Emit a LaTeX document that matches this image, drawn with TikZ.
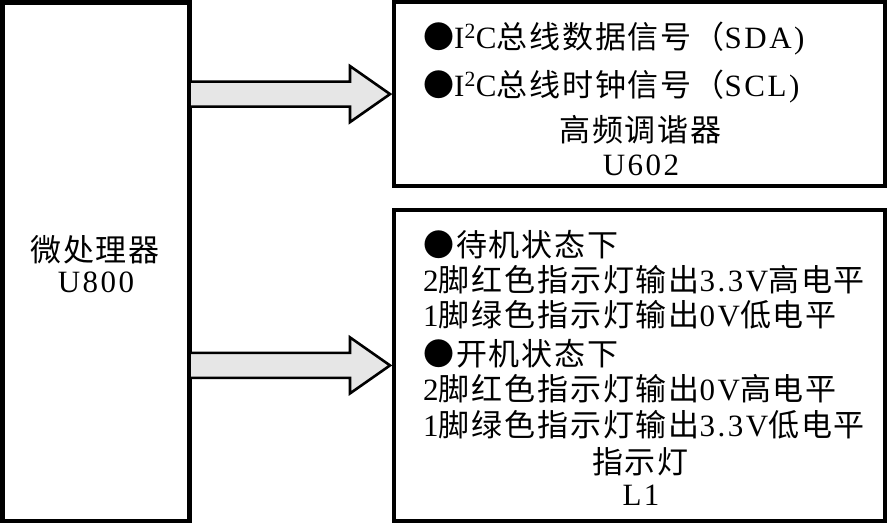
\documentclass[tikz,border=0pt]{standalone}
\usepackage{fontspec}
\setmainfont[LetterSpace=8]{Liberation Serif}
\newfontfamily\cjk[LetterSpace=6]{Noto Sans CJK SC}
\usetikzlibrary{calc}
\newcommand{\Z}[1]{{\cjk #1}}
\definecolor{arrowfill}{RGB}{230,230,230}
\begin{document}
\begin{tikzpicture}[x=1pt,y=1pt,
  box/.style={draw, line width=4.5pt, inner sep=0pt, outer sep=0pt},
  blockarrow/.style={draw, line width=2.6pt, fill=arrowfill, line join=miter},
  txt/.style={inner sep=0pt, anchor=base west, font=\fontsize{31}{36}\selectfont},
  ctxt/.style={inner sep=0pt, anchor=base, font=\fontsize{31}{36}\selectfont}]
\useasboundingbox (0,0) rectangle (887,-523);
% boxes
\node[box, minimum width=187.25pt, minimum height=518.5pt] (cpu) at (95.9,-261.5) {};
\node[box, minimum width=490.75pt, minimum height=183.75pt] (tuner) at (639.4,-94.1) {};
\node[box, minimum width=490.75pt, minimum height=310.75pt] (lamp) at (639.4,-365.4) {};
% cpu text
\node[ctxt] (cpu1) at (95,-261) {\Z{微处理器}};
\node[ctxt] (cpu2) at (96,-292) {U800};
% tuner text
\node[txt] (t1) at (423,-48) {\Z{●}I\textsuperscript{2}C\Z{总线数据信号（}SDA)};
\node[txt] (t2) at (423,-96) {\Z{●}I\textsuperscript{2}C\Z{总线时钟信号（}SCL)};
\node[ctxt] (t3) at (640.5,-141) {\Z{高频调谐器}};
\node[ctxt] (t4) at (641,-175) {U602};
% lamp text
\node[txt] (l1) at (423,-256) {\Z{●待机状态下}};
\node[txt] (l2) at (423,-291) {2\Z{脚红色指示灯输出}3.3V\Z{高电平}};
\node[txt] (l3) at (423,-326) {1\Z{脚绿色指示灯输出}0V\Z{低电平}};
\node[txt] (l4) at (423,-365) {\Z{●开机状态下}};
\node[txt] (l5) at (423,-400) {2\Z{脚红色指示灯输出}0V\Z{高电平}};
\node[txt] (l6) at (423,-436) {1\Z{脚绿色指示灯输出}3.3V\Z{低电平}};
\node[ctxt] (l7) at (640.5,-473) {\Z{指示灯}};
\node[ctxt] (l8) at (641,-505) {L1};
% block arrows
\draw[blockarrow] ($(cpu.east |- tuner.west)+(0,12.5)$) -- ($(tuner.west)+(-44,12.5)$)
  -- ($(tuner.west)+(-44,28)$) -- ($(tuner.west)+(-4,0)$) -- ($(tuner.west)+(-44,-28)$)
  -- ($(tuner.west)+(-44,-12.5)$) -- ($(cpu.east |- tuner.west)+(0,-12.5)$) -- cycle;
\draw[blockarrow] ($(cpu.east |- lamp.west)+(0,12.5)$) -- ($(lamp.west)+(-44,12.5)$)
  -- ($(lamp.west)+(-44,28)$) -- ($(lamp.west)+(-4,0)$) -- ($(lamp.west)+(-44,-28)$)
  -- ($(lamp.west)+(-44,-12.5)$) -- ($(cpu.east |- lamp.west)+(0,-12.5)$) -- cycle;
\end{tikzpicture}
\end{document}
